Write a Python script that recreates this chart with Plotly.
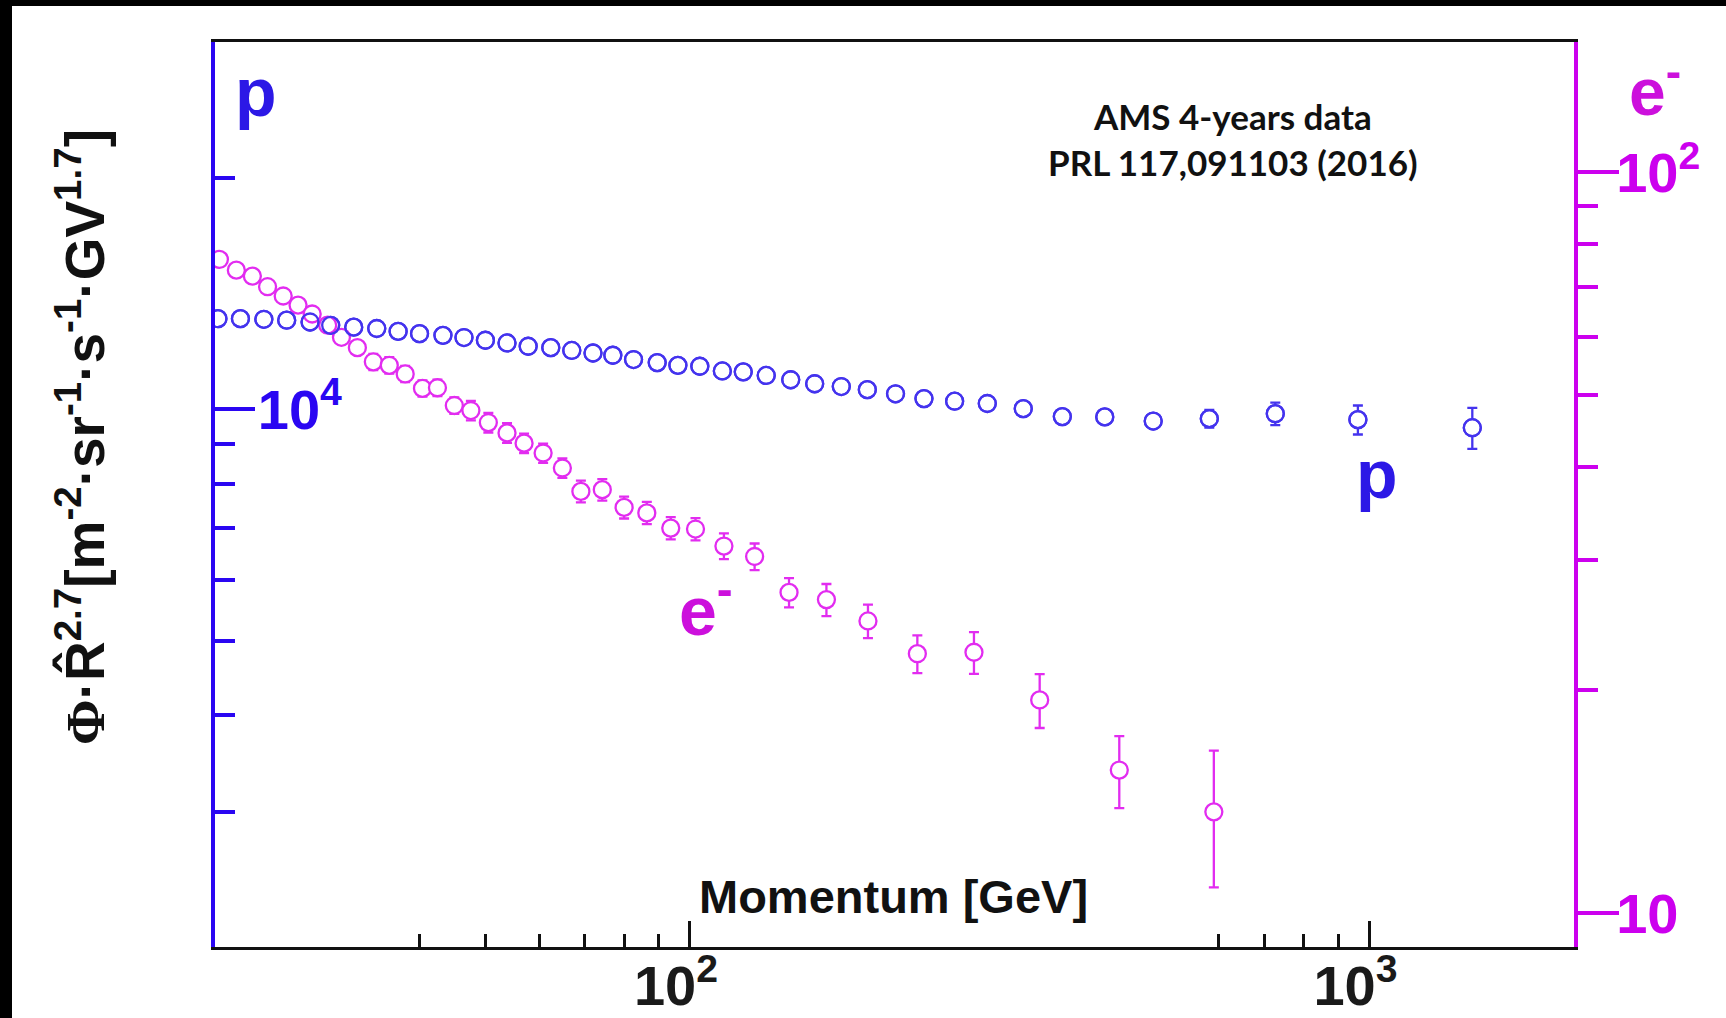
import plotly.graph_objects as go
import math

# ---------------- data ----------------
p_momentum = [20.2, 21.8, 23.6, 25.5, 27.6, 29.6, 32.0, 34.6, 37.2, 40.0, 43.3, 46.5,
              50.0, 53.8, 57.8, 62.4, 67.0, 72.0, 77.0, 82.6, 89.5, 96.0, 103.4, 111.6,
              119.8, 129.5, 140.7, 152.6, 167.0, 182.4, 200.7, 221.0, 245.2, 273.9,
              309.4, 353.2, 407.8, 480.6, 581.2, 726.8, 961.6, 1417.0]
p_flux = [13110, 13110, 13085, 13050, 12980, 12850, 12780, 12730, 12620, 12535, 12470, 12390,
          12290, 12190, 12070, 12020, 11920, 11830, 11750, 11600, 11495, 11400, 11370, 11210,
          11180, 11060, 10920, 10790, 10700, 10600, 10470, 10320, 10240, 10170,
          10015, 9780, 9770, 9650, 9720, 9865, 9690, 9460]
p_err = [30, 30, 30, 30, 30, 30, 30, 30, 30, 30, 30, 30,
         30, 30, 30, 30, 30, 30, 30, 30, 30, 30, 30, 30,
         30, 30, 30, 35, 35, 35, 40, 45, 50, 60,
         70, 90, 110, 140, 260, 330, 420, 580]

e_momentum = [20.3, 21.5, 22.7, 23.9, 25.2, 26.5, 27.8, 29.3, 30.7, 32.4, 34.2, 36.1,
              38.1, 40.4, 42.5, 45.0, 47.6, 50.5, 53.8, 57.0, 60.8, 64.9, 69.1, 74.3,
              80.0, 86.4, 93.7, 101.9, 112.2, 124.5, 139.9, 158.8, 182.8, 216.1,
              261.8, 327.1, 428.4, 590.2]
e_flux = [76.3, 73.8, 72.45, 70.1, 68.1, 66.2, 64.4, 62.2, 59.9, 58.0, 55.5, 54.9,
          53.45, 51.1, 51.2, 48.45, 47.7, 45.95, 44.5, 43.1, 41.8, 39.9, 37.1, 37.3,
          35.3, 34.7, 33.1, 33.0, 31.3, 30.3, 27.1, 26.5, 24.8, 22.4,
          22.5, 19.4, 15.6, 13.7]
e_err = [1.1, 1.1, 1.1, 1.05, 1.0, 1.0, 1.0, 0.95, 0.9, 0.9, 1.4, 1.4,
         1.35, 1.3, 1.3, 1.25, 1.45, 1.4, 1.35, 1.3, 1.25, 1.2, 1.25, 1.25,
         1.2, 1.2, 1.15, 1.15, 1.25, 1.25, 1.23, 1.32, 1.29, 1.31,
         1.46, 1.62, 1.74, 2.87]

x_major = [100, 1000]
x_major_text = ["10<sup>2</sup>", "10<sup>3</sup>"]
x_minor = [30, 40, 50, 60, 70, 80, 90, 600, 700, 800, 900]
yp_major = [10000]
yp_major_text = ["10<sup>4</sup>"]
yp_minor = [3000, 4000, 5000, 6000, 7000, 8000, 9000, 20000]
ye_major = [10, 100]
ye_major_text = ["10", "10<sup>2</sup>"]
ye_minor = [20, 30, 40, 50, 60, 70, 80, 90]

x_range = [20, 2000]
yp_range = [2000, 30000]
ye_range = [9, 150]

# ---------------- style ----------------
BLUE_AX = "#2a06f2"
BLUE_TXT = "#2c18e6"
BLUE_MK = "#4433ee"
MAG_AX = "#cc00ee"
MAG_TXT = "#cc10dc"
MAG_MK = "#e22cf0"
FONT = "Liberation Sans"

W, H = 1726, 1018
ML, MR, MT, MB = 215, 152, 42, 71
PW, PH = W - ML - MR, H - MT - MB


def px(x):
    return (x - ML) / PW


def py(y):
    return (H - MB - y) / PH


MS = 17
MLW = 2.3

fig = go.Figure()

# protons (with error bars, white-filled markers hide the bar inside)
fig.add_trace(go.Scatter(
    x=p_momentum, y=p_flux, mode="markers", yaxis="y", name="p",
    marker=dict(symbol="circle", size=MS, color="white", line=dict(color=BLUE_MK, width=MLW)),
    error_y=dict(type="data", array=p_err, color=BLUE_MK, thickness=2.3, width=5),
    showlegend=False))

# electrons
fig.add_trace(go.Scatter(
    x=e_momentum, y=e_flux, mode="markers", yaxis="y2", name="e-",
    marker=dict(symbol="circle", size=MS, color="white", line=dict(color=MAG_MK, width=MLW)),
    error_y=dict(type="data", array=e_err, color=MAG_MK, thickness=2.3, width=5),
    showlegend=False))

# proton outlines redrawn on top so both series show where they cross
fig.add_trace(go.Scatter(
    x=p_momentum, y=p_flux, mode="markers", yaxis="y3", name="p outline",
    marker=dict(symbol="circle-open", size=MS, color=BLUE_MK, line=dict(color=BLUE_MK, width=MLW)),
    showlegend=False, hoverinfo="skip"))

lx = [math.log10(v) for v in x_range]
lyp = [math.log10(v) for v in yp_range]
lye = [math.log10(v) for v in ye_range]

fig.update_layout(
    width=W, height=H,
    margin=dict(l=ML, r=MR, t=MT, b=MB, autoexpand=False),
    paper_bgcolor="white", plot_bgcolor="white",
    xaxis=dict(
        type="log", range=lx, showgrid=False, zeroline=False,
        showline=True, linecolor="#111111", linewidth=3, mirror=True,
        ticks="inside", ticklen=26, tickwidth=3, tickcolor="#111111",
        tickmode="array", tickvals=x_major, ticktext=x_major_text,
        tickfont=dict(family=FONT, size=56, color="#1a1a1a", weight="bold"),
        ticklabelstandoff=-12, ticklabelshift=-14,
        minor=dict(ticks="inside", ticklen=13, tickwidth=3, tickcolor="#111111",
                   tickmode="array", tickvals=x_minor, showgrid=False),
        automargin=False,
    ),
    yaxis=dict(
        type="log", range=lyp, showgrid=False, zeroline=False,
        showline=True, linecolor=BLUE_AX, linewidth=4,
        ticks="inside", ticklen=40, tickwidth=4, tickcolor=BLUE_AX,
        tickmode="array", tickvals=yp_major, ticktext=yp_major_text,
        ticklabelposition="inside", ticklabelstandoff=11,
        tickfont=dict(family=FONT, size=56, color=BLUE_AX, weight="bold"),
        minor=dict(ticks="inside", ticklen=20, tickwidth=4, tickcolor=BLUE_AX,
                   tickmode="array", tickvals=yp_minor, showgrid=False),
        automargin=False,
    ),
    yaxis2=dict(
        type="log", range=lye, overlaying="y", side="right",
        showgrid=False, zeroline=False,
        showline=True, linecolor=MAG_AX, linewidth=4,
        ticks="outside", ticklen=41, tickwidth=4, tickcolor=MAG_AX,
        tickmode="array", tickvals=ye_major, ticktext=ye_major_text,
        ticklabelstandoff=-14,
        tickfont=dict(family=FONT, size=56, color=MAG_AX, weight="bold"),
        minor=dict(ticks="outside", ticklen=20, tickwidth=4, tickcolor=MAG_AX,
                   tickmode="array", tickvals=ye_minor, showgrid=False),
        automargin=False,
    ),
    yaxis3=dict(type="log", range=lyp, overlaying="y", visible=False),
)

ytitle = ('<span style="font-family:Liberation Serif">Φ</span>·R̂<sup>2.7</sup>'
          '[m<sup>-2</sup>·sr<sup>-1</sup>·s<sup>-1</sup>·GV<sup>1.7</sup>]')

annotations = [
    dict(text=ytitle, x=px(81), y=py(437), textangle=-90,
         font=dict(family=FONT, size=55, color="#111111", weight="bold")),
    dict(text="p", x=px(256), y=py(92),
         font=dict(family=FONT, size=68, color=BLUE_TXT, weight="bold")),
    dict(text="p", x=px(1377), y=py(474),
         font=dict(family=FONT, size=68, color=BLUE_TXT, weight="bold")),
    dict(text="e<sup>-</sup>", x=px(706), y=py(606),
         font=dict(family=FONT, size=68, color=MAG_TXT, weight="bold")),
    dict(text="e<sup>-</sup>", x=px(1655), y=py(87),
         font=dict(family=FONT, size=66, color=MAG_TXT, weight="bold")),
    dict(text="Momentum [GeV]", x=px(893), y=py(896),
         font=dict(family=FONT, size=47, color="#111111", weight="bold")),
    dict(text="AMS 4-years data<br>PRL 117,091103 (2016)", x=px(1233), y=py(139),
         font=dict(family="Lato", size=35, color="#111111", weight="bold")),
]
for a in annotations:
    a.update(xref="paper", yref="paper", showarrow=False, xanchor="center", yanchor="middle")
fig.update_layout(annotations=annotations)

# black frame strips at top and left edge of the picture
fig.add_shape(type="rect", xref="paper", yref="paper", layer="above",
              x0=px(0), x1=px(W), y0=py(6), y1=py(0), fillcolor="black", line_width=0)
fig.add_shape(type="rect", xref="paper", yref="paper", layer="above",
              x0=px(0), x1=px(12), y0=py(H), y1=py(0), fillcolor="black", line_width=0)

fig.write_html("out.html")
